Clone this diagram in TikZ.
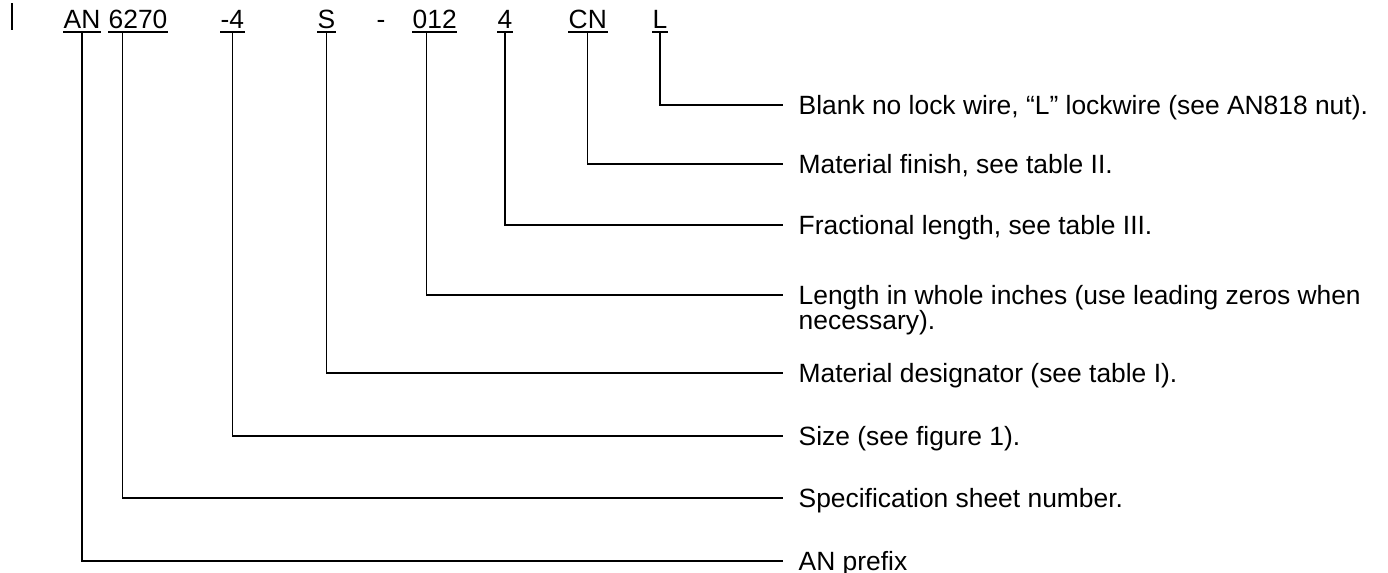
\documentclass[tikz,border=0pt]{standalone}
\usepackage{fontspec}
\setmainfont{Liberation Sans}
\usetikzlibrary{positioning}

\begin{document}
\begin{tikzpicture}[x=0.5pt, y=-0.5pt, line width=0.7pt,
    font=\fontsize{13.2}{12.5}\selectfont,
    part/.style={inner sep=0pt, anchor=base west},
    note/.style={inner xsep=7.5pt, inner ysep=0pt, text height=9.45pt,
      text depth=0pt, anchor=west}]
  \useasboundingbox (0,0) rectangle (1388,573);
  % change bar at the margin
  \draw[line width=1pt] (11.5,3) -- (11.5,30);
  % the part number, piece by piece
  \node[part] (pAN)    at (63,28)  {AN};
  \node[part] (pSheet) at (108,28) {6270};
  \node[part] (pSize)  at (220,28) {-4};
  \node[part] (pMat)   at (317,28) {S};
  \node[part] (pDash)  at (376,28) {-};
  \node[part] (pLen)   at (412,28) {012};
  \node[part] (pFrac)  at (497,28) {4};
  \node[part] (pFin)   at (568,28) {CN};
  \node[part] (pLock)  at (652,28) {L};
  % what each piece means
  \node[note] (dLock)  at (783,105) {Blank no lock wire, “L” lockwire (see AN818 nut).};
  \node[note] (dFin)   at (783,164) {Material finish, see table II.};
  \node[note] (dFrac)  at (783,225) {Fractional length, see table III.};
  \node[note] (dLen)   at (783,295) {\vtop{\hbox{Length in whole inches (use leading zeros when}\hbox{necessary).}}};
  \node[note] (dMat)   at (783,373) {Material designator (see table I).};
  \node[note] (dSize)  at (783,436) {Size (see figure 1).};
  \node[note] (dSheet) at (783,498) {Specification sheet number.};
  \node[note] (dAN)    at (783,561) {AN prefix};
  % underline each piece and lead it down to its note
  \foreach \p/\d/\dx in {pAN/dAN/0, pSheet/dSheet/-15.5, pSize/dSize/0, pMat/dMat/0,
      pLen/dLen/-8, pFrac/dFrac/0, pFin/dFin/0, pLock/dLock/0} {
    \draw ([yshift=-2pt]\p.base west) -- ([yshift=-2pt]\p.base east);
    \draw ([shift={(\dx,4)}]\p.base) |- (\d.west);
  }
\end{tikzpicture}
\end{document}
